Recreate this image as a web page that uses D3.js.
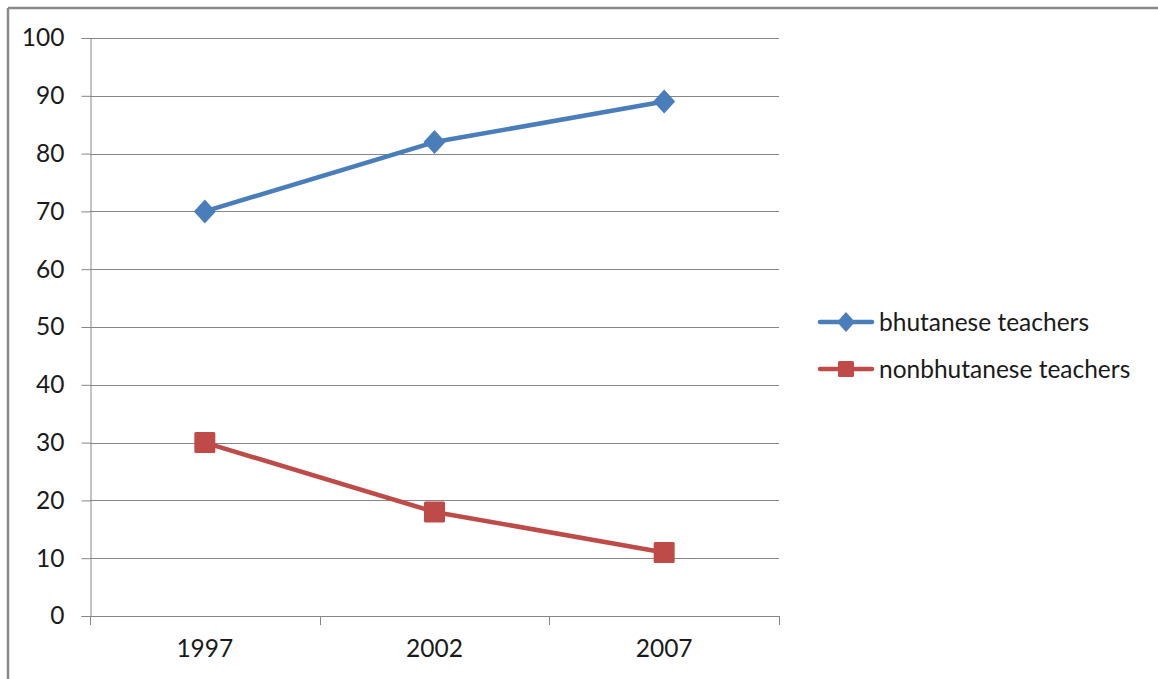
<!DOCTYPE html>
<html>
<head>
<meta charset="utf-8">
<script src="https://cdn.jsdelivr.net/npm/d3@7"></script>
<style>
  html, body { margin: 0; padding: 0; background: #fff; }
  svg { display: block; }
  text { font-family: Lato, "Open Sans", sans-serif; fill: #1a1a1a; }
</style>
</head>
<body>
<svg id="chart" width="1158" height="679"></svg>
<script>
// Chart data
const years = ["1997", "2002", "2007"];
const bhutanese = [70, 82, 89];
const nonBhutanese = [30, 18, 11];
const seriesNames = ["bhutanese teachers", "nonbhutanese teachers"];
const yTicks = [0, 10, 20, 30, 40, 50, 60, 70, 80, 90, 100];

const seriesList = [
  { name: seriesNames[0], values: bhutanese, color: "#4a7ebb", shape: "diamond" },
  { name: seriesNames[1], values: nonBhutanese, color: "#be4b48", shape: "square" }
];

const svg = d3.select("#chart");
const W = 1158, H = 679;
const plot = { left: 90, right: 779, top: 38, bottom: 616 };
const gridColor = "#868686";
const fontSize = "24.5px";

// Outer frame (top and left edges visible)
svg.append("line").attr("x1", 8).attr("x2", W).attr("y1", 8).attr("y2", 8)
  .attr("stroke", "#8a8a8a").attr("stroke-width", 2.5);
svg.append("line").attr("x1", 8).attr("x2", 8).attr("y1", 8).attr("y2", H)
  .attr("stroke", "#8a8a8a").attr("stroke-width", 2.5);

const x = d3.scaleBand().domain(years).range([plot.left, plot.right]).padding(0);
const y = d3.scaleLinear().domain([0, 100]).range([plot.bottom, plot.top]);

// Horizontal gridlines
svg.append("g").selectAll("line").data(yTicks).join("line")
  .attr("x1", plot.left).attr("x2", plot.right)
  .attr("y1", d => Math.round(y(d)) + 0.5).attr("y2", d => Math.round(y(d)) + 0.5)
  .attr("stroke", gridColor).attr("stroke-width", 1);

// Y axis
const yAxis = svg.append("g")
  .attr("transform", `translate(${plot.left + 0.5},0)`)
  .call(d3.axisLeft(y).tickValues(yTicks).tickSize(9).tickPadding(17).tickFormat(d3.format("d")));
yAxis.select(".domain").attr("stroke", gridColor);
yAxis.selectAll(".tick line").attr("stroke", gridColor);
yAxis.selectAll(".tick text").style("font-size", fontSize).attr("fill", "#1a1a1a")
  .attr("font-family", "Lato, sans-serif");

// X axis
const xAxis = svg.append("g")
  .attr("transform", `translate(0,${Math.round(plot.bottom) + 0.5})`)
  .call(d3.axisBottom(x).tickSize(0).tickPadding(23));
xAxis.select(".domain").remove();
xAxis.selectAll(".tick text").style("font-size", fontSize).attr("fill", "#1a1a1a")
  .attr("font-family", "Lato, sans-serif");
// Category boundary ticks
const bounds = years.map(d => x(d)).concat([x.range()[1]]);
svg.append("g").selectAll("line").data(bounds).join("line")
  .attr("x1", d => Math.round(d) + 0.5).attr("x2", d => Math.round(d) + 0.5)
  .attr("y1", plot.bottom).attr("y2", plot.bottom + 9)
  .attr("stroke", gridColor);

const cx = d => x(d) + x.bandwidth() / 2;
const line = d3.line().x((v, i) => cx(years[i])).y(v => y(v));

function marker(g, shape, color, size) {
  if (shape === "diamond") {
    const r = size / 2;
    g.append("path").attr("d", `M0,${-r - 1}L${r},0L0,${r + 1}L${-r},0Z`).attr("fill", color);
  } else {
    g.append("rect").attr("x", -size / 2).attr("y", -size / 2).attr("width", size).attr("height", size)
      .attr("rx", 1.5).attr("fill", color);
  }
}

seriesList.forEach(s => {
  svg.append("path").datum(s.values).attr("d", line)
    .attr("fill", "none").attr("stroke", s.color).attr("stroke-width", 4.5)
    .attr("stroke-linejoin", "round");
  s.values.forEach((v, i) => {
    const g = svg.append("g").attr("transform", `translate(${cx(years[i])},${y(v)})`);
    marker(g, s.shape, s.color, s.shape === "diamond" ? 22 : 21);
  });
});

// Legend
const legend = svg.append("g");
seriesList.forEach((s, i) => {
  const ly = 322 + i * 47;
  const g = legend.append("g").attr("transform", `translate(0,${ly})`);
  g.append("line").attr("x1", 820).attr("x2", 872).attr("y1", 0).attr("y2", 0)
    .attr("stroke", s.color).attr("stroke-width", 4.5).attr("stroke-linecap", "round");
  const m = g.append("g").attr("transform", "translate(846,0)");
  marker(m, s.shape, s.color, s.shape === "diamond" ? 18 : 16);
  g.append("text").attr("x", 879).attr("y", 0).attr("dy", "0.35em")
    .style("font-size", fontSize).text(s.name);
});
</script>
</body>
</html>
